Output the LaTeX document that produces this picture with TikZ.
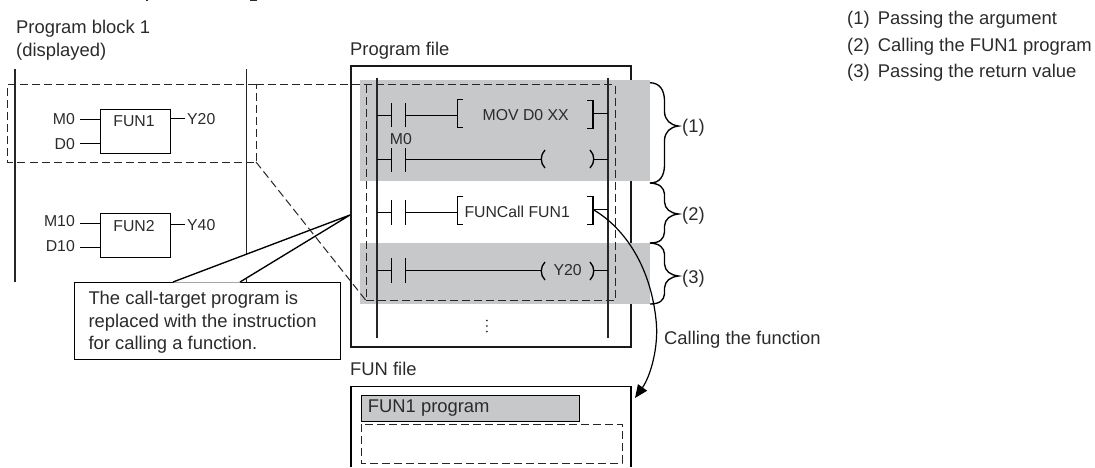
\documentclass[tikz,border=0pt]{standalone}
\usepackage{fontspec}
\setmainfont{Liberation Sans}
\usetikzlibrary{arrows.meta}
\definecolor{inktext}{HTML}{2B2B2B}
\definecolor{bandgray}{HTML}{C7C8CA}
\newcommand{\bigtxt}{\fontsize{18.4}{22}\selectfont}
\newcommand{\ladtxt}{\fontsize{15.8}{19}\selectfont}
\tikzset{
  ln/.style={line width=1.35pt,draw=black,line cap=butt},
  rail/.style={line width=1.6pt,draw=black!85,line cap=butt},
  dsh/.style={line width=1pt,draw=black!85,dash pattern=on 8pt off 4pt},
  lab/.style={anchor=base west,inner sep=0pt,text=inktext,font=\bigtxt},
  labR/.style={anchor=base east,inner sep=0pt,text=inktext,font=\ladtxt},
  labL/.style={anchor=base west,inner sep=0pt,text=inktext,font=\ladtxt},
  blockbox/.style={draw=black,line width=1.35pt,anchor=north west,inner sep=0pt,minimum width=70pt,minimum height=44pt},
  gband/.style={fill=bandgray,draw=none,anchor=north west,inner sep=0pt,minimum width=290pt}
}
\begin{document}
\begin{tikzpicture}[x=1pt,y=-1pt]
\useasboundingbox (0,0) rectangle (1095,467);
% cropped title descenders
\fill[inktext] (145.5,0) rectangle (147.5,1.2);
\fill[inktext] (250,0) rectangle (257,1.2);
% captions
\node[lab] (pb1) at (16,33.3) {Program block 1};
\node[lab] (pb2) at (16,56) {(displayed)};
\node[lab] (pf) at (350,55.7) {Program file};
\node[lab] (ff) at (350,375.7) {FUN file};
\node[lab] (c1) at (847,24) {(1)};
\node[lab] at (877.7,24) {Passing the argument};
\node[lab] (c2) at (847,51) {(2)};
\node[lab] at (877.7,51) {Calling the FUN1 program};
\node[lab] (c3) at (847,77) {(3)};
\node[lab] at (877.7,77) {Passing the return value};
% left rungs
\draw[rail] (15,69) -- (15,282);
\draw[rail] (246.5,69) -- (246.5,282);
% function blocks
\node[blockbox] (fun1) at (99.5,108.5) {};
\node[blockbox] (fun2) at (99.5,212.5) {};
\node[labL,anchor=base] (fun1t) at (134,126.7) {FUN1};
\node[labL,anchor=base] (fun2t) at (134,231) {FUN2};
\node[labR] (m0) at (75,124) {M0};
\node[labR] (d0) at (75,149) {D0};
\node[labL] (y20) at (187,124) {Y20};
\node[labR] (m10) at (75,226.7) {M10};
\node[labR] (d10) at (75,251.7) {D10};
\node[labL] (y40) at (187,230.7) {Y40};
\draw[ln] (80,119.5) -- (fun1.west |- 0,119.5);
\draw[ln] (80,143.5) -- (fun1.west |- 0,143.5);
\draw[ln] (fun1.east |- 0,118.5) -- (185,118.5);
\draw[ln] (80,223.5) -- (fun2.west |- 0,223.5);
\draw[ln] (80,247.5) -- (fun2.west |- 0,247.5);
\draw[ln] (fun2.east |- 0,224.5) -- (185,224.5);
% program file
\draw[line width=2.4pt,draw=black!90] (351,66) rectangle (631,347);
\node[gband,minimum height=100.7pt] (band1) at (360,80) {};
\node[gband,minimum height=61.3pt] (band3) at (360,242.7) {};
% ladder rails
\draw[rail] (376.7,78) -- (376.7,338);
\draw[rail] (608,78) -- (608,338);
% contacts and rungs
\foreach \r/\a/\b in {115.5/103/127,159.5/148/172,212.5/200/225,270.5/258/283}{
  \draw[ln] (376.5,\r) -- (391.5,\r);
  \draw[ln] (391.5,\a) -- (391.5,\b);
  \draw[ln] (405.5,\a) -- (405.5,\b);
}
% rung 1
\draw[ln] (405.5,115.5) -- (457.5,115.5);
\draw[ln] (463,99.5) -- (457.5,99.5) -- (457.5,127.5) -- (463,127.5);
\draw[ln] (587,100.5) -- (593,100.5) -- (593,128.5) -- (587,128.5);
\draw[ln] (593,113.5) -- (608,113.5);
\node[labL] (movt) at (482.5,120) {MOV D0 XX};
\node[labL] (m0b) at (389.7,144) {M0};
% rung 2
\draw[ln] (405.5,159.5) -- (541,159.5);
\draw[ln] (545,150) .. controls (540,155) and (540,163) .. (545,168);
\draw[ln] (590,150) .. controls (595,155) and (595,163) .. (590,168);
\draw[ln] (593.5,159.5) -- (608,159.5);
% rung 3
\draw[ln] (405.5,212.5) -- (457.5,212.5);
\draw[ln] (463,196.5) -- (457.5,196.5) -- (457.5,224.5) -- (463,224.5);
\draw[ln] (587,196.5) -- (593,196.5) -- (593,224.5) -- (587,224.5);
\draw[ln] (593,209.5) -- (608,209.5);
\node[labL] (fc) at (464.3,217.3) {FUNCall FUN1};
% rung 4
\draw[ln] (405.5,270.5) -- (541,270.5);
\draw[ln] (545,262) .. controls (540,267) and (540,275) .. (545,280);
\draw[ln] (590,262) .. controls (595,267) and (595,275) .. (590,280);
\draw[ln] (593.5,270.5) -- (608,270.5);
\node[labL] (y20b) at (553.3,275.7) {Y20};
% dots
\foreach \d in {320.5,326,331.5} \fill[black!80] (486.8,\d) circle (1pt);
% braces
\draw[ln] (650,82.7) .. controls (660,83) and (664,90) .. (664.5,100) -- (664.5,112) .. controls (665,120) and (670,125) .. (678.5,126) .. controls (670,127) and (665,132) .. (664.5,140) -- (664.5,166) .. controls (664,176) and (660,183) .. (650,183);
\draw[ln] (650,183) .. controls (660,183.5) and (664,188) .. (664.5,194) -- (664.5,202) .. controls (665,209) and (670,213) .. (678.5,214) .. controls (670,215) and (665,219) .. (664.5,226) -- (664.5,232) .. controls (664,239) and (660,243) .. (650,243);
\draw[ln] (650,243) .. controls (660,243.5) and (664,248) .. (664.5,254) -- (664.5,264) .. controls (665,271) and (670,275) .. (678.5,276) .. controls (670,277) and (665,281) .. (664.5,288) -- (664.5,294) .. controls (664,300) and (660,304) .. (650,304);
\node[lab] (b1) at (682,132) {(1)};
\node[lab] (b2) at (682,220) {(2)};
\node[lab] (b3) at (682,283) {(3)};
% callout
\node[draw=black,line width=1.35pt,fill=white,anchor=north west,inner sep=0pt,minimum width=266pt,minimum height=77pt] (call) at (73.5,282) {};
\coordinate (tip) at (350,215);
\fill[white] (173,282.6) -- (tip) -- (240,282.6) -- cycle;
\draw[ln] (173,282) -- (tip) -- (240,282);
\node[lab] (ct1) at (88.3,304.7) {The call-target program is};
\node[lab] (ct2) at (88.3,327) {replaced with the instruction};
\node[lab] (ct3) at (88.3,349.3) {for calling a function.};
% dashed zoom outline
\draw[dsh] (256,84.5) -- (7.5,84.5) -- (7.5,162) -- (256,162) -- (256,84.5);
\draw[dsh] (256,84.5) -- (615,84.5) -- (615,300.5) -- (366,300.5) -- (366,84.5);
\draw[dsh] (256,162) -- (366,300.5);
% FUN file
\draw[ln] (351,467) -- (351,386.5) -- (631,386.5) -- (631,467);
\node[draw=black,line width=1.35pt,fill=bandgray,anchor=north west,inner sep=0pt,minimum width=218pt,minimum height=26pt] (fp) at (360.5,394.5) {};
\node[lab] (fpt) at (367.7,412) {FUN1 program};
\draw[dsh] (361,424) rectangle (622,463);
% call arrow
\coordinate (callfrom) at (593,209.5);
\coordinate (callto) at (635,398);
\draw[line width=1.2pt,-{Triangle[length=13pt,width=11pt]}] (callfrom) .. controls (625,228) and (652,268) .. (656.5,325) .. controls (658,350) and (650,377) .. (callto);
\node[lab] (callt) at (664,344) {Calling the function};
\end{tikzpicture}
\end{document}
